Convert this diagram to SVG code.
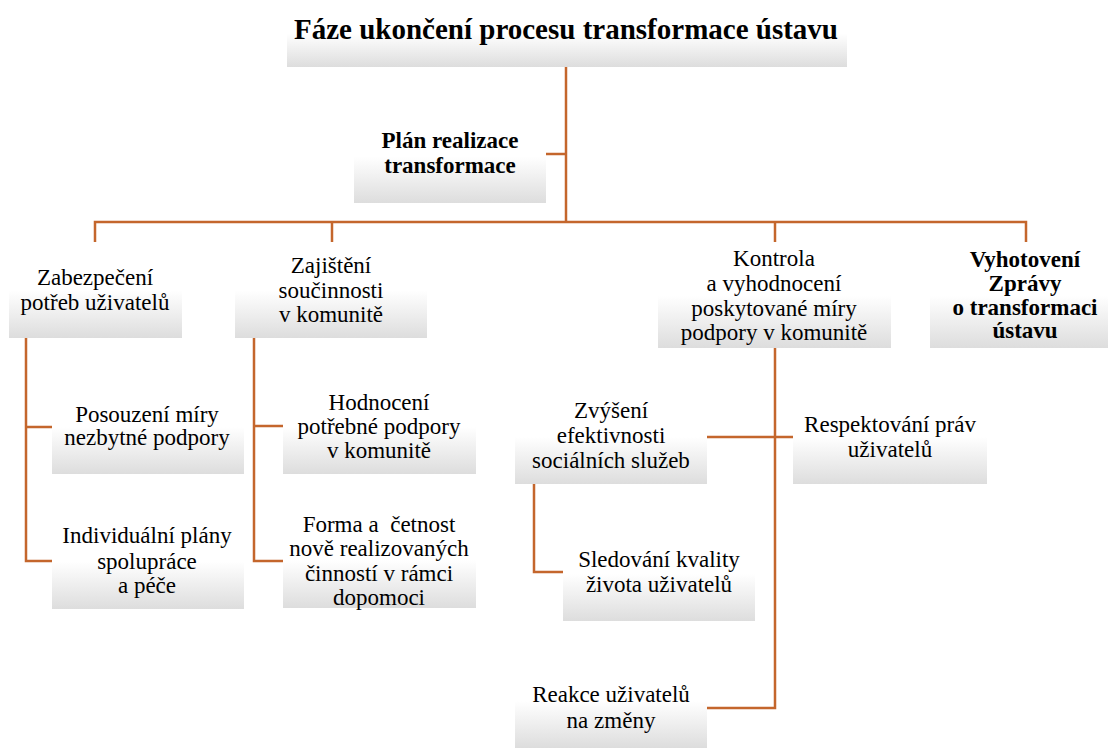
<svg xmlns="http://www.w3.org/2000/svg" width="1110" height="749" viewBox="0 0 1110 749" font-family="'Liberation Serif', 'Times New Roman', Tinos, 'DejaVu Serif', serif">
<defs>
<linearGradient id="g" x1="0" y1="0" x2="0" y2="1">
<stop offset="0" stop-color="#ffffff"/>
<stop offset="0.5" stop-color="#ffffff"/>
<stop offset="1" stop-color="#dddddd"/>
</linearGradient>
</defs>
<style>
.box{fill:url(#g);}
text{font-family:'Liberation Serif','Times New Roman',Tinos,'DejaVu Serif',serif;font-size:23px;fill:#000;text-anchor:middle;}
.b{font-weight:bold;}
.t{font-size:29px;font-weight:bold;}
.c{fill:none;stroke:#C4662C;stroke-width:2.5;}
</style>
<rect width="1110" height="749" fill="#fff"/>
<g id="connectors">
<path class="c" d="M566 67 V222"/>
<path class="c" d="M546 154 H566"/>
<path class="c" d="M95 242 V222 H1026 V242"/>
<path class="c" d="M332 222 V242"/>
<path class="c" d="M775 222 V242"/>
<path class="c" d="M26 338 V561 H52 M26 427 H52"/>
<path class="c" d="M254 338 V561 H283 M254 426 H283"/>
<path class="c" d="M775 348 V708 H707 M707 437 H793"/>
<path class="c" d="M534 484 V572 H563"/>
</g>
<g id="title">
<rect class="box" x="287" y="0" width="560" height="67"/>
<text class="t" x="566" y="39">Fáze ukončení procesu transformace ústavu</text>
</g>
<g id="plan">
<rect class="box" x="354" y="110" width="192" height="93"/>
<text class="b" x="450" y="148">Plán realizace</text>
<text class="b" x="450" y="173">transformace</text>
</g>
<g id="zabezpeceni">
<rect class="box" x="9" y="243" width="173" height="95"/>
<text x="95" y="285">Zabezpečení</text>
<text x="95" y="310">potřeb uživatelů</text>
</g>
<g id="zajisteni">
<rect class="box" x="235" y="243" width="192" height="95"/>
<text x="331" y="273">Zajištění</text>
<text x="331" y="298">součinnosti</text>
<text x="331" y="322">v komunitě</text>
</g>
<g id="kontrola">
<rect class="box" x="658" y="243" width="233" height="105"/>
<text x="774" y="266">Kontrola</text>
<text x="774" y="291">a vyhodnocení</text>
<text x="774" y="316">poskytované míry</text>
<text x="774" y="340">podpory v komunitě</text>
</g>
<g id="vyhotoveni">
<rect class="box" x="930" y="243" width="178" height="105"/>
<text class="b" x="1025" y="267">Vyhotovení</text>
<text class="b" x="1025" y="291">Zprávy</text>
<text class="b" x="1025" y="315">o transformaci</text>
<text class="b" x="1025" y="338">ústavu</text>
</g>
<g id="posouzeni">
<rect class="box" x="52" y="380" width="192" height="94"/>
<text x="147" y="422">Posouzení míry</text>
<text x="147" y="445">nezbytné podpory</text>
</g>
<g id="individualni">
<rect class="box" x="52" y="514" width="192" height="95"/>
<text x="147" y="543">Individuální plány</text>
<text x="147" y="569">spolupráce</text>
<text x="147" y="593">a péče</text>
</g>
<g id="hodnoceni">
<rect class="box" x="283" y="380" width="193" height="94"/>
<text x="379" y="410">Hodnocení</text>
<text x="379" y="434">potřebné podpory</text>
<text x="379" y="458">v komunitě</text>
</g>
<g id="forma">
<rect class="box" x="283" y="512" width="193" height="96"/>
<text x="379" y="532" xml:space="preserve">Forma a  četnost</text>
<text x="379" y="556">nově realizovaných</text>
<text x="379" y="581">činností v rámci</text>
<text x="379" y="605">dopomoci</text>
</g>
<g id="zvyseni">
<rect class="box" x="515" y="390" width="192" height="94"/>
<text x="611" y="418">Zvýšení</text>
<text x="611" y="443">efektivnosti</text>
<text x="611" y="468">sociálních služeb</text>
</g>
<g id="respektovani">
<rect class="box" x="793" y="390" width="194" height="94"/>
<text x="890" y="432">Respektování práv</text>
<text x="890" y="457">uživatelů</text>
</g>
<g id="sledovani">
<rect class="box" x="563" y="527" width="192" height="94"/>
<text x="659" y="567">Sledování kvality</text>
<text x="659" y="592">života uživatelů</text>
</g>
<g id="reakce">
<rect class="box" x="515" y="654" width="192" height="94"/>
<text x="611" y="702">Reakce uživatelů</text>
<text x="611" y="728">na změny</text>
</g>
</svg>
